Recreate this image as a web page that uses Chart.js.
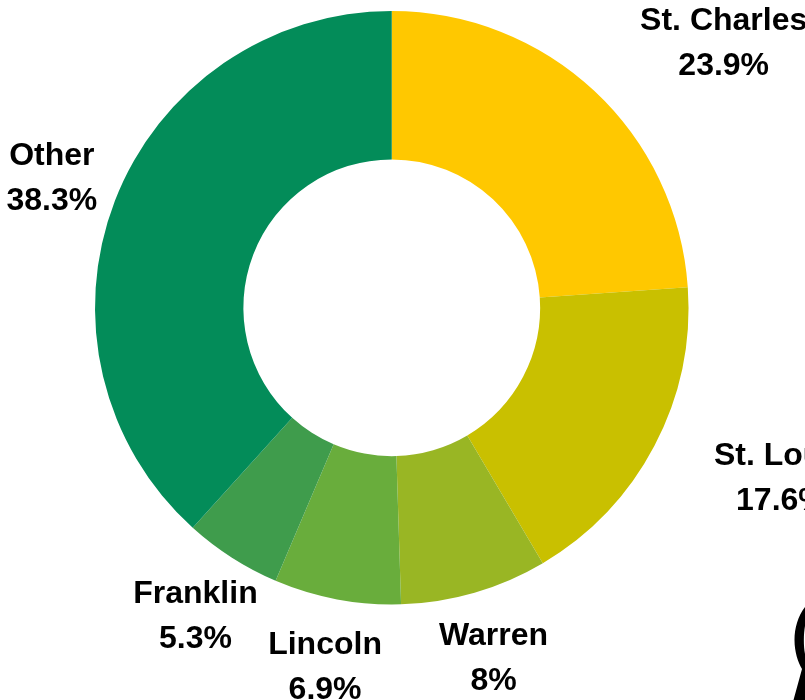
<!DOCTYPE html>
<html>
<head>
<meta charset="utf-8">
<title>Share by county</title>
<script src="https://cdn.jsdelivr.net/npm/chart.js@4"></script>
<style>
  html, body { margin: 0; background: #fff; overflow: hidden; }
  canvas { display: block; }
</style>
</head>
<body>
<canvas id="donut" width="805" height="700"></canvas>
<script>
const counties = ['St. Charles', 'St. Louis', 'Warren', 'Lincoln', 'Franklin', 'Other'];
const shares = [23.9, 17.6, 8, 6.9, 5.3, 38.3];
const sliceColors = ['#ffc800', '#c9c000', '#99b624', '#69ad3c', '#3f9c4c', '#038c59'];
// label centre, relative to the middle of each slice's outer edge
const labelOffsets = [[129.5, -47], [127, 33], [19, 66], [-12, 68], [-36.5, 59], [-63, -22]];

const sliceLabels = {
  id: 'sliceLabels',
  afterDatasetsDraw(chart) {
    const ctx = chart.ctx;
    const arcs = chart.getDatasetMeta(0).data;
    ctx.save();
    ctx.font = 'bold 32px "Liberation Sans"';
    ctx.fillStyle = '#000';
    ctx.textAlign = 'center';
    ctx.textBaseline = 'middle';
    arcs.forEach((arc, i) => {
      const mid = (arc.startAngle + arc.endAngle) / 2;
      const x = arc.x + Math.cos(mid) * arc.outerRadius + labelOffsets[i][0];
      const y = arc.y + Math.sin(mid) * arc.outerRadius + labelOffsets[i][1];
      ctx.fillText(counties[i], x, y - 22.5);
      ctx.fillText(shares[i] + '%', x, y + 22.5);
    });
    ctx.restore();
  }
};

// bit of a logo cut off by the bottom right corner
const cornerLogo = {
  id: 'cornerLogo',
  afterDraw(chart) {
    const ctx = chart.ctx;
    ctx.save();
    ctx.fillStyle = '#000';
    ctx.beginPath();
    ctx.moveTo(805, 607);
    ctx.bezierCurveTo(798, 616, 794.5, 628, 794.5, 640);
    ctx.bezierCurveTo(794.5, 652, 798, 662, 802, 669);
    ctx.lineTo(793.5, 700);
    ctx.lineTo(805, 700);
    ctx.lineTo(805, 654);
    ctx.bezierCurveTo(803.5, 646, 803.5, 634, 805, 626);
    ctx.closePath();
    ctx.fill();
    ctx.restore();
  }
};

new Chart(document.getElementById('donut'), {
  type: 'doughnut',
  data: {
    labels: counties,
    datasets: [{ data: shares, backgroundColor: sliceColors, borderWidth: 0 }]
  },
  options: {
    responsive: false,
    animation: false,
    cutout: '50%',
    layout: { padding: { top: 11, left: 95, right: 116.5, bottom: 95.5 } },
    plugins: { legend: { display: false }, tooltip: { enabled: false } }
  },
  plugins: [sliceLabels, cornerLogo]
});
</script>
</body>
</html>
